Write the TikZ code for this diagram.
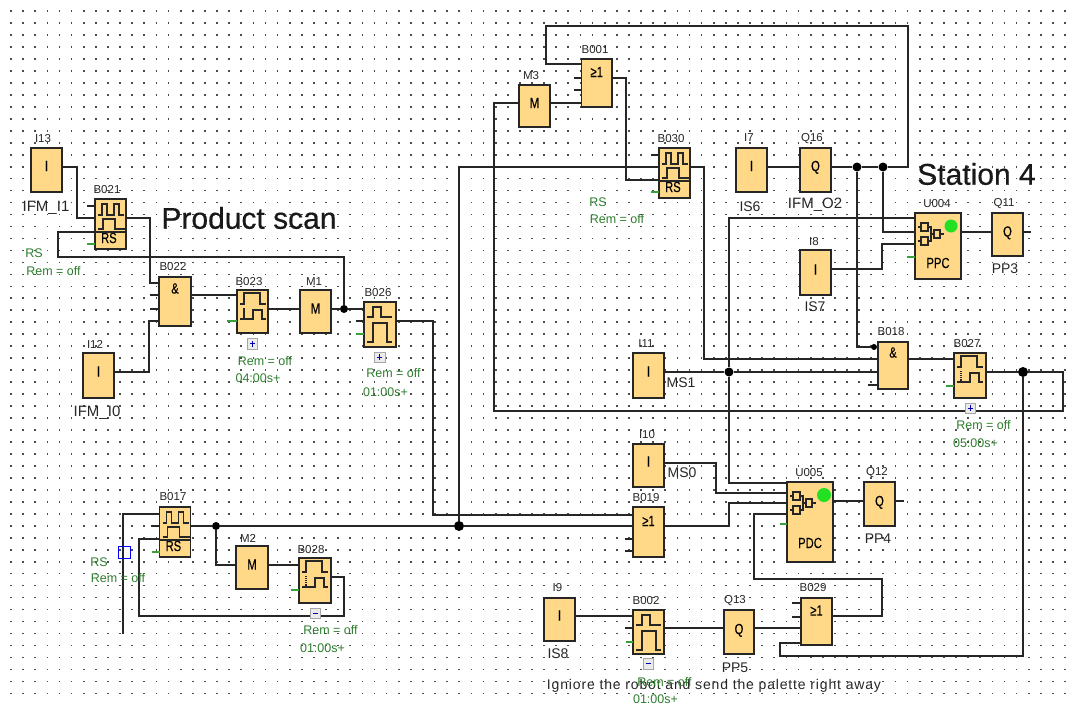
\documentclass[tikz,border=0pt]{standalone}
\usepackage{fontspec}
\setmainfont{Liberation Sans}
\definecolor{blockfill}{HTML}{FFD988}
\definecolor{inkline}{HTML}{262626}
\definecolor{greentext}{HTML}{2E7D2E}
\definecolor{stubgreen}{HTML}{3AA03A}
\definecolor{ledgreen}{HTML}{22E022}
\newcounter{lab}
\tikzset{
  blockbox/.style={draw=inkline,line width=1.6pt,fill=blockfill,inner sep=0pt,outer sep=0pt,font=\fontsize{14}{14}\selectfont\addfontfeature{FakeBold=0.4}},
  wire/.style={draw=inkline,line width=1.5pt,line join=miter},
  stub/.style={draw=inkline,line width=1.2pt},
  gstub/.style={draw=stubgreen,line width=1.2pt},
  glyphline/.style={draw=inkline,line width=1.1pt},
  junc/.style={circle,fill=black,inner sep=0pt,minimum size=#1},
  lbl/.style={inner sep=0pt,font=\fontsize{11.5}{12}\selectfont,text=black!85},
  nam/.style={inner sep=0pt,font=\fontsize{14}{14}\selectfont,text=black!85},
  namw/.style={inner sep=0pt,font=\fontsize{15}{15}\selectfont,text=black!85},
  grn/.style={inner sep=0pt,font=\fontsize{12.5}{13}\selectfont,text=greentext},
  bigt/.style={inner sep=0pt,font=\fontsize{30}{30}\selectfont\addfontfeature{FakeBold=0.5},text=black!90},
  iconbox/.style={draw=black!35,fill=black!8,line width=0.8pt},
  sel/.style={draw=blue,line width=1.2pt,inner sep=0pt,minimum size=12pt}
}
% \blk{name}{x1}{y1}{x2}{y2}{raise}{text}
\newcommand{\blk}[7]{\node[blockbox,minimum width={(#4-#2)*1pt},minimum height={(#5-#3)*1pt}] (#1) at ({(#2+#4)/2},{(#3+#5)/2}) {\raisebox{\dimexpr#6pt-0.36em\relax}[0pt][0pt]{\scalebox{.8}[1.05]{#7}}};}
\newcommand{\lab}[4][lbl]{\stepcounter{lab}\node[#1] (lab\arabic{lab}) at (#2,#3) {#4};}
\newcommand{\rsglyph}[1]{\begin{scope}[shift={(#1.north west)}]
  \draw[glyphline] (3,16)--(7,16)--(7,5)--(12,5)--(12,16)--(19,16)--(19,5)--(24,5)--(24,16)--(29,16);
  \draw[glyphline] (3,30)--(8,30)--(8,20)--(20,20)--(20,30)--(30,30);
  \draw[glyphline] (0,33)--(31,33);
\end{scope}}
\newcommand{\delayglyph}[2]{\begin{scope}[shift={(#1.north west)}]
  \draw[glyphline] (3,14)--(7,14)--(7,3)--(23,3)--(23,14)--(29,14);
  \draw[glyphline] (3,29)--(16,29)--(16,20)--(25,20)--(25,29)--(29,29);
  \draw[glyphline,#2] (7,18)--(7,29);
\end{scope}}
\newcommand{\offglyph}[1]{\begin{scope}[shift={(#1.north west)}]
  \draw[glyphline] (3,15)--(9,15)--(9,5)--(17,5)--(17,15)--(28,15);
  \draw[glyphline] (3,40)--(9,40)--(9,21)--(23,21)--(23,40)--(28,40);
\end{scope}}
\newcommand{\gateglyph}[1]{\begin{scope}[shift={(#1.north west)}]
  \draw[glyphline] (3,14)--(6,14) (3,28)--(6,28);
  \draw[glyphline] (6,10) rectangle (13,18) (6,24) rectangle (13,32);
  \draw[glyphline] (13,14)--(16,14)--(16,28)--(13,28) (16,21)--(19,21);
  \draw[glyphline] (19,17) rectangle (25,25) (25,21)--(29,21);
\end{scope}}
\newcommand{\iconmark}[5]{\fill[iconbox] (#1,#2) rectangle (#3,#4);\draw[blue!70!black,line width=1pt] ({(#1+#3)/2-2.5},{(#2+#4)/2})--({(#1+#3)/2+2.5},{(#2+#4)/2})#5;}
\begin{document}
\begin{tikzpicture}[x=1pt,y=-1pt]
\useasboundingbox (0,0) rectangle (1070,704);
\fill[white] (0,0) rectangle (1070,704);
% grid
\foreach \i in {0,...,87}{\foreach \j in {0,...,57}{
  \fill[black!70] ({10.2+12.115*\i},{10.2+11.97*\j}) rectangle ++(1.7,1.7);}}

% blocks
\blk{i13}{31}{148}{62}{192}{4}{I}
\blk{b021}{95}{199}{126}{249}{-14}{\kern-4pt RS}
\blk{b022}{159}{277}{191}{326}{13}{\&}
\blk{b023}{237}{290}{268}{333}{0}{}
\blk{m1}{300}{290}{331}{333}{3}{M}
\blk{b026}{364}{302}{396}{347}{0}{}
\blk{i12}{83}{353}{114}{398}{4}{I}
\blk{b017}{159.5}{507}{190.5}{557}{-14}{\kern-4pt RS}
\blk{m2}{236}{546}{268}{589}{3}{M}
\blk{b028}{299}{558}{331}{603}{0}{}
\blk{m3}{519}{85}{550}{127}{3}{M}
\blk{b001}{581.5}{59}{612}{107}{11}{≥1}
\blk{b030}{659}{148}{690}{198}{-14}{\kern-4pt RS}
\blk{i7}{736}{148}{767}{192}{4}{I}
\blk{q16}{800}{148}{831}{192}{4}{Q}
\blk{u004}{915}{213}{961}{279}{-17}{PPC}
\blk{q11}{992}{213}{1023}{256}{3}{Q}
\blk{i8}{800}{250}{831}{295}{3}{I}
\blk{i11}{633}{353}{664}{398}{4}{I}
\blk{b018}{878}{342}{908}{389}{13}{\&}
\blk{b027}{954}{353}{986}{398}{0}{}
\blk{i10}{633}{444}{664}{487}{4}{I}
\blk{b019}{633}{507}{664}{557}{11}{≥1}
\blk{u005}{787}{482}{833}{562}{-21}{PDC}
\blk{q12}{864}{482}{895}{526}{3}{Q}
\blk{i9}{544}{598}{575}{641}{4}{I}
\blk{b002}{633}{610}{664}{654}{0}{}
\blk{q13}{724}{610}{754}{654}{3}{Q}
\blk{b029}{801}{598}{832}{645}{11}{≥1}

% glyphs
\rsglyph{b021}\rsglyph{b017}\rsglyph{b030}
\delayglyph{b023}{}\delayglyph{b027}{densely dotted}\delayglyph{b028}{densely dotted}
\offglyph{b026}\offglyph{b002}
\gateglyph{u004}\gateglyph{u005}
\fill[ledgreen] (951,226) circle (6.5);
\fill[ledgreen] (824,495) circle (7);

% junctions
\node[junc=8pt] (j1) at (344,309) {};
\node[junc=8pt] (j2) at (216,526) {};
\node[junc=10pt] (j3) at (459,526) {};
\node[junc=9pt] (j4) at (857,167) {};
\node[junc=9pt] (j5) at (883,167) {};
\node[junc=9pt] (j6) at (729,372) {};
\node[junc=10pt] (j7) at (1023,372) {};
\node[junc=6pt] (j8) at (874,347) {};

% wires: product scan
\draw[wire] (i13.east |- 0,167) -- (77,167) -- (77,218) -- (b021.west |- 0,218);
\draw[wire] (j1) -- (344,257) -- (58,257) -- (58,232) -- (b021.west |- 0,232);
\draw[wire] (b021.east |- 0,218) -- (150,218) -- (150,283) -- (b022.west |- 0,283);
\draw[wire] (i12.east |- 0,372) -- (149,372) -- (149,321) -- (b022.west |- 0,321);
\draw[wire] (b022.east |- 0,295) -- (b023.west |- 0,295);
\draw[wire] (b023.east |- 0,309) -- (m1.west |- 0,309);
\draw[wire] (m1.east |- 0,309) -- (j1) -- (b026.west |- 0,309);
\draw[wire] (b026.east |- 0,321) -- (433,321) -- (433,515) -- (b019.west |- 0,515);
% lower left
\draw[wire] (123,634) -- (123,514) -- (b017.west |- 0,514);
\draw[wire] (b017.east |- 0,526) -- (j2) -- (j3) -- (b019.west |- 0,526);
\draw[wire] (j2) -- (216,565) -- (m2.west |- 0,565);
\draw[wire] (m2.east |- 0,565) -- (b028.west |- 0,565);
\draw[wire] (b028.east |- 0,577) -- (344,577) -- (344,616) -- (139,616) -- (139,539) -- (b017.west |- 0,539);
\draw[wire] (j3) -- (459,167) -- (b030.west |- 0,167);
% top
\draw[wire] (m3.west |- 0,103) -- (494,103) -- (494,411) -- (1063,411) -- (1063,372) -- (j7);
\draw[wire] (m3.east |- 0,103) -- (b001.west |- 0,103);
\draw[wire] (b001.east |- 0,78) -- (626,78) -- (626,180) -- (b030.west |- 0,180);
\draw[wire] (b030.east |- 0,167) -- (704,167) -- (704,359) -- (b018.west |- 0,359);
\draw[wire] (i7.east |- 0,167) -- (q16.west |- 0,167);
\draw[wire] (q16.east |- 0,167) -- (j4) -- (j5) -- (908,167) -- (908,26) -- (546,26) -- (546,64) -- (b001.west |- 0,64);
\draw[wire] (j4) -- (857,347) -- (j8) -- (b018.west |- 0,347);
\draw[wire] (j5) -- (883,232) -- (u004.west |- 0,232);
\draw[wire] (i8.east |- 0,269) -- (882,269) -- (882,244) -- (u004.west |- 0,244);
\draw[wire] (u004.west |- 0,218) -- (729,218) -- (j6);
\draw[wire] (j6) -- (729,483) -- (u005.west |- 0,483);
\draw[wire] (u004.east |- 0,232) -- (q11.west |- 0,232);
\draw[wire] (i11.east |- 0,372) -- (j6) -- (b018.west |- 0,372);
\draw[wire] (b018.east |- 0,359) -- (b027.west |- 0,359);
\draw[wire] (b027.east |- 0,372) -- (j7);
\draw[wire] (j7) -- (1023,656) -- (780,656) -- (780,643) -- (b029.west |- 0,643);
\draw[wire] (i10.east |- 0,463) -- (716,463) -- (716,493) -- (u005.west |- 0,493);
\draw[wire] (b019.east |- 0,526) -- (729,526) -- (729,503) -- (u005.west |- 0,503);
\draw[wire] (b029.east |- 0,616) -- (882,616) -- (882,579) -- (754,579) -- (754,514) -- (u005.west |- 0,514);
\draw[wire] (u005.east |- 0,501) -- (q12.west |- 0,501);
\draw[wire] (i9.east |- 0,616) -- (b002.west |- 0,616);
\draw[wire] (b002.east |- 0,628) -- (q13.west |- 0,628);
\draw[wire] (q13.east |- 0,628) -- (b029.west |- 0,628);

% stubs
\draw[stub] (b021.west |- 0,206) -- ++(-8,0);
\draw[stub] (b022.west |- 0,295) -- ++(-9,0);
\draw[stub] (b022.west |- 0,309) -- ++(-9,0);
\draw[stub] (b026.west |- 0,321) -- ++(-8,0);
\draw[stub] (b017.west |- 0,526) -- ++(-9,0);
\draw[stub] (b001.west |- 0,78) -- ++(-8,0);
\draw[stub] (b001.west |- 0,90) -- ++(-8,0);
\draw[stub] (b030.west |- 0,155) -- ++(-8,0);
\draw[stub] (b018.west |- 0,385) -- ++(-10,0);
\draw[stub] (b019.west |- 0,539) -- ++(-8,0);
\draw[stub] (b019.west |- 0,551) -- ++(-8,0);
\draw[stub] (b002.west |- 0,628) -- ++(-8,0);
\draw[stub] (b029.west |- 0,603) -- ++(-9,0);
\draw[stub] (b029.west |- 0,617) -- ++(-9,0);
\draw[stub] (q11.east |- 0,232) -- ++(8,0);
\draw[stub] (q12.east |- 0,501) -- ++(9,0);
\draw[gstub] (b021.west |- 0,244) -- ++(-8,0);
\draw[gstub] (b023.west |- 0,321) -- ++(-10,0);
\draw[gstub] (b026.west |- 0,334) -- ++(-8,0);
\draw[gstub] (b017.west |- 0,552) -- ++(-8,0);
\draw[gstub] (b028.west |- 0,590) -- ++(-8,0);
\draw[gstub] (b030.west |- 0,192) -- ++(-8,0);
\draw[gstub] (u004.west |- 0,257) -- ++(-8,0);
\draw[gstub] (u005.west |- 0,524) -- ++(-7,0);
\draw[gstub] (b027.west |- 0,386) -- ++(-8,0);
\draw[gstub] (b002.west |- 0,642) -- ++(-7,0);

% selection square and parameter icons
\node[sel] (selbox) at (124.5,552.5) {};
\iconmark{247}{338}{257}{349}{ ({(247+257)/2},{(338+349)/2+3})--({(247+257)/2},{(338+349)/2-3})}
\iconmark{374}{352}{385}{362}{ ({(374+385)/2},{(352+362)/2+3})--({(374+385)/2},{(352+362)/2-3})}
\iconmark{965}{403}{975}{413}{ ({(965+975)/2},{(403+413)/2+3})--({(965+975)/2},{(403+413)/2-3})}
\iconmark{310}{608}{320}{618}{}
\iconmark{643}{658}{653}{669}{}

% black labels
\lab{43}{139}{I13}
\lab[namw]{46}{208}{IFM\_I1}
\lab{107}{190}{B021}
\lab{173}{267}{B022}
\lab{249}{282}{B023}
\lab{314}{282}{M1}
\lab{378}{293}{B026}
\lab{95}{344}{I12}
\lab[namw]{97}{413}{IFM\_I0}
\lab{173}{497}{B017}
\lab{248}{538}{M2}
\lab{311}{550}{B028}
\lab{595}{50}{B001}
\lab{531}{76}{M3}
\lab{671}{139}{B030}
\lab{749}{138}{I7}
\lab{812}{139}{Q16}
\lab[nam]{750}{207}{IS6}
\lab[namw]{815}{205}{IFM\_O2}
\lab{937}{204}{U004}
\lab{1004}{204}{Q11}
\lab[nam]{1005}{269}{PP3}
\lab{814}{242}{I8}
\lab[nam]{815}{307}{IS7}
\lab{646}{344}{I11}
\lab[nam]{681}{383}{MS1}
\lab{891}{332}{B018}
\lab{967}{344}{B027}
\lab{647}{435}{I10}
\lab[nam]{682}{473}{MS0}
\lab{809}{473}{U005}
\lab{877}{473}{Q12}
\lab{646}{498}{B019}
\lab[nam]{878}{539}{PP4}
\lab{646}{601}{B002}
\lab{735}{601}{Q13}
\lab[nam]{735}{668}{PP5}
\lab{813}{588}{B029}
\lab{557.5}{588}{I9}
\lab[nam]{558}{654}{IS8}
% big titles
\lab[bigt]{249}{218}{Product scan}
\lab[bigt]{976.5}{174}{Station 4}
\node[lbl,font=\fontsize{14}{14}\selectfont\addfontfeature{LetterSpace=6}] (note) at (714,686) {Igniore the robot and send the palette right away};
% green labels
\lab[grn]{34}{253}{RS}
\lab[grn]{53.5}{271}{Rem = off}
\lab[grn]{265}{361}{Rem = off}
\lab[grn]{258}{378}{04:00s+}
\lab[grn]{393.5}{373}{Rem = off}
\lab[grn]{385.5}{392}{01:00s+}
\lab[grn]{99}{562}{RS}
\lab[grn]{118}{578}{Rem = off}
\lab[grn]{330.5}{630}{Rem = off}
\lab[grn]{322.5}{648}{01:00s+}
\lab[grn]{598}{202}{RS}
\lab[grn]{617}{219}{Rem = off}
\lab[grn]{983.5}{425}{Rem = off}
\lab[grn]{975.5}{443}{05:00s+}
\lab[grn]{664.5}{682}{Rem = off}
\lab[grn]{655.5}{699}{01:00s+}
\end{tikzpicture}
\end{document}
